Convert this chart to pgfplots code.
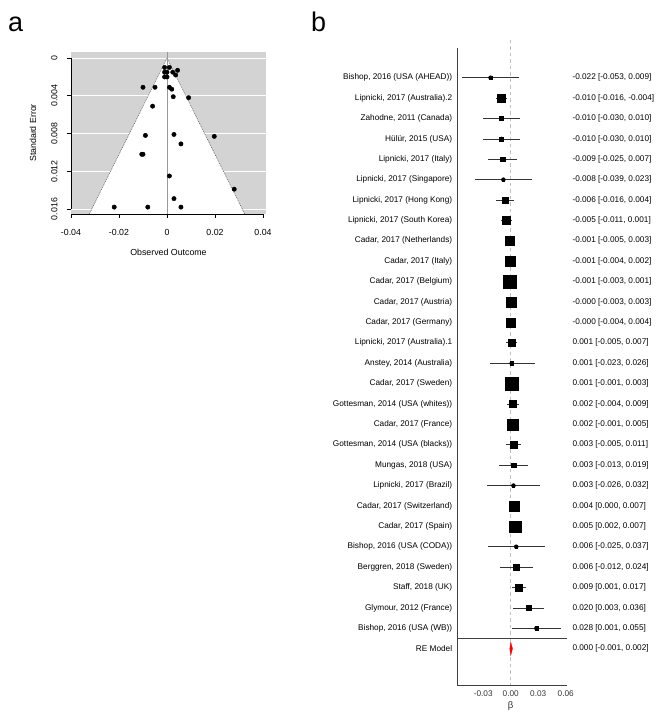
\documentclass[border=0pt]{standalone}
\usepackage{pgfplots}
\usepackage{pgfplotstable}
\pgfplotsset{compat=1.18}
\usepackage{fontspec}
\setmainfont{Liberation Sans}
\definecolor{fgray}{HTML}{D3D3D3}

\pgfplotstableread{
est se
-0.022 0.0158
-0.010 0.0031
-0.010 0.0102
-0.0105 0.0102
-0.009 0.0082
-0.008 0.0158
-0.006 0.0051
-0.005 0.0031
-0.001 0.0020
-0.001 0.0015
-0.001 0.0010
0.000 0.0015
0.000 0.0020
0.001 0.0031
0.001 0.0125
0.001 0.0010
0.002 0.0033
0.0024 0.0015
0.0026 0.0041
0.0029 0.0081
0.0029 0.0149
0.0036 0.0018
0.0044 0.0013
0.0058 0.0158
0.0058 0.0091
0.009 0.0042
0.0197 0.0083
0.028 0.0139
}\funneldata

\pgfplotstableread{
y est em ep s
1 -0.022 0.031 0.031 1.35
2 -0.010 0.006 0.006 4.0
3 -0.010 0.020 0.020 2.15
4 -0.010 0.020 0.020 2.15
5 -0.009 0.016 0.016 2.35
6 -0.008 0.031 0.031 1.15
7 -0.006 0.010 0.010 3.0
8 -0.005 0.006 0.006 4.15
9 -0.001 0.004 0.004 4.35
10 -0.001 0.003 0.003 5.0
11 -0.001 0.002 0.002 6.35
12 0.000 0.003 0.003 5.0
13 0.000 0.004 0.004 4.65
14 0.001 0.006 0.006 3.5
15 0.001 0.024 0.025 1.65
16 0.001 0.002 0.002 6.35
17 0.002 0.006 0.007 3.5
18 0.002 0.003 0.003 5.5
19 0.003 0.008 0.008 3.35
20 0.003 0.016 0.016 2.35
21 0.003 0.029 0.029 1.15
22 0.004 0.004 0.003 5.0
23 0.005 0.003 0.002 5.65
24 0.006 0.031 0.031 1.15
25 0.006 0.018 0.018 2.65
26 0.009 0.008 0.008 3.5
27 0.020 0.017 0.016 2.5
28 0.028 0.027 0.027 1.65
}\forestdata

\begin{document}
\begin{tikzpicture}[x=1pt,y=1pt]
\useasboundingbox (0pt,0pt) rectangle (663pt,721pt);

\node[anchor=base west, inner sep=0, font=\fontsize{27}{30}\selectfont] at (8pt,689pt) {a};
\node[anchor=base west, inner sep=0, font=\fontsize{27}{30}\selectfont] at (311pt,689pt) {b};

% ---------------- funnel plot ----------------
\begin{axis}[
  at={(71pt,507pt)}, anchor=south west, scale only axis,
  width=195pt, height=162pt,
  xmin=-0.04, xmax=0.04125, ymin=-0.00064, ymax=0.01653, y dir=reverse,
  scaled ticks=false,
  axis background/.style={fill=fgray},
  axis line style={draw=none},
  xtick={-0.04,-0.02,0,0.02,0.04}, xticklabels={-0.04,-0.02,0,0.02,0.04},
  ytick={0,0.004,0.008,0.012,0.016}, yticklabels={0,0.004,0.008,0.012,0.016},
  tick pos=left, tick align=outside, major tick length=4pt,
  tick style={black, line width=0.6pt},
  ymajorgrids, grid style={white, line width=0.9pt},
  ticklabel style={font=\fontsize{8.8}{10}\selectfont},
  xticklabel style={yshift=-8pt},
  yticklabel style={rotate=90, anchor=south, yshift=6pt},
  xlabel={Observed Outcome}, ylabel={Standard Error},
  label style={font=\fontsize{8.8}{10}\selectfont},
  xlabel style={at={(axis description cs:0.5,0)}, anchor=center, yshift=-38pt},
  ylabel style={at={(axis description cs:0,0.5)}, anchor=center, yshift=38pt},
  clip=false,
]
\addplot[fill=white, draw=none] coordinates {(-0.0324,0.01653) (0,0) (0.0324,0.01653)} -- cycle;
\addplot[black!65, line width=0.5pt, dash pattern=on 1pt off 0.8pt] coordinates {(-0.0324,0.01653) (0,0) (0.0324,0.01653)};
\addplot[black!40, line width=1pt] coordinates {(0,-0.00064) (0,0.01653)};
\addplot[only marks, mark=*, mark size=2.2pt, black] table[x=est, y=se] {\funneldata};
\draw[black, line width=0.6pt] (axis cs:-0.04,0.01653) -- (axis cs:0.04,0.01653);
\draw[black, line width=0.6pt] (axis cs:-0.04,0) -- (axis cs:-0.04,0.016);
\end{axis}

% ---------------- forest plot ----------------
\begin{axis}[
  at={(457pt,36pt)}, anchor=south west, scale only axis,
  width=110pt, height=637pt,
  xmin=-0.0586, xmax=0.0614, ymin=-0.457, ymax=30.78, y dir=reverse,
  scaled ticks=false,
  axis line style={draw=none},
  xtick={-0.03,0,0.03,0.06}, xticklabels={-0.03,0.00,0.03,0.06},
  ytick={1,...,29},
  yticklabels={{Bishop, 2016 (USA (AHEAD))},{Lipnicki, 2017 (Australia).2},{Zahodne, 2011 (Canada)},{Hülür, 2015 (USA)},{Lipnicki, 2017 (Italy)},{Lipnicki, 2017 (Singapore)},{Lipnicki, 2017 (Hong Kong)},{Lipnicki, 2017 (South Korea)},{Cadar, 2017 (Netherlands)},{Cadar, 2017 (Italy)},{Cadar, 2017 (Belgium)},{Cadar, 2017 (Austria)},{Cadar, 2017 (Germany)},{Lipnicki, 2017 (Australia).1},{Anstey, 2014 (Australia)},{Cadar, 2017 (Sweden)},{Gottesman, 2014 (USA (whites))},{Cadar, 2017 (France)},{Gottesman, 2014 (USA (blacks))},{Mungas, 2018 (USA)},{Lipnicki, 2017 (Brazil)},{Cadar, 2017 (Switzerland)},{Cadar, 2017 (Spain)},{Bishop, 2016 (USA (CODA))},{Berggren, 2018 (Sweden)},{Staff, 2018 (UK)},{Glymour, 2012 (France)},{Bishop, 2016 (USA (WB))},{RE Model}},
  tick pos=left, major tick length=0pt,
  ticklabel style={font=\fontsize{8.25}{9.5}\selectfont},
  yticklabel style={xshift=-1.3pt},
  xticklabel style={yshift=-2pt, text=black!80},
  xlabel={β},
  xlabel style={at={(axis cs:0,30.78)}, anchor=center, yshift=-21pt, font=\fontsize{9.5}{11}\selectfont, text=black!80},
  clip=false,
]
\addplot[black!25, line width=0.8pt, dash pattern=on 3.5pt off 3pt] coordinates {(0,-0.85) (0,30.78)};
\addplot[black!75, line width=0.6pt] coordinates {(-0.0586,28.5) (0.0614,28.5)};
\addplot[only marks, mark=none, error bars/.cd, x dir=both, x explicit, error mark=none,
  error bar style={black!80, line width=0.65pt}]
  table[x=est, y=y, x error minus=em, x error plus=ep] {\forestdata};
\addplot[scatter, only marks, mark=square*, scatter src=explicit,
  scatter/use mapped color={draw=none, fill=black},
  visualization depends on={\thisrow{s} \as \msz},
  scatter/@pre marker code/.append style={/tikz/mark size=\msz}]
  table[x=est, y=y, meta=s] {\forestdata};
\addplot[fill=red, draw=red, line width=0.3pt] coordinates {(-0.001,29) (0,28.67) (0.002,29) (0,29.33)} -- cycle;
\draw[black!75, line width=0.6pt] (axis cs:-0.0586,-0.457) -- (axis cs:-0.0586,30.78) -- (axis cs:0.0614,30.78);
\end{axis}

% right-hand annotations
\begin{axis}[
  at={(457pt,36pt)}, anchor=south west, scale only axis,
  width=110pt, height=637pt,
  xmin=-0.0586, xmax=0.0614, ymin=-0.457, ymax=30.78, y dir=reverse,
  scaled ticks=false,
  axis line style={draw=none}, xtick=\empty,
  ytick={1,...,29},
  yticklabels={{-0.022 [-0.053, 0.009]},{-0.010 [-0.016, -0.004]},{-0.010 [-0.030, 0.010]},{-0.010 [-0.030, 0.010]},{-0.009 [-0.025, 0.007]},{-0.008 [-0.039, 0.023]},{-0.006 [-0.016, 0.004]},{-0.005 [-0.011, 0.001]},{-0.001 [-0.005, 0.003]},{-0.001 [-0.004, 0.002]},{-0.001 [-0.003, 0.001]},{-0.000 [-0.003, 0.003]},{-0.000 [-0.004, 0.004]},{0.001 [-0.005, 0.007]},{0.001 [-0.023, 0.026]},{0.001 [-0.001, 0.003]},{0.002 [-0.004, 0.009]},{0.002 [-0.001, 0.005]},{0.003 [-0.005, 0.011]},{0.003 [-0.013, 0.019]},{0.003 [-0.026, 0.032]},{0.004 [0.000, 0.007]},{0.005 [0.002, 0.007]},{0.006 [-0.025, 0.037]},{0.006 [-0.012, 0.024]},{0.009 [0.001, 0.017]},{0.020 [0.003, 0.036]},{0.028 [0.001, 0.055]},{0.000 [-0.001, 0.002]}},
  ytick pos=right, yticklabel pos=right, major tick length=0pt,
  ticklabel style={font=\fontsize{8.25}{9.5}\selectfont},
  yticklabel style={xshift=2pt},
]
\addplot[draw=none] coordinates {(0,1)};
\end{axis}
\end{tikzpicture}
\end{document}
